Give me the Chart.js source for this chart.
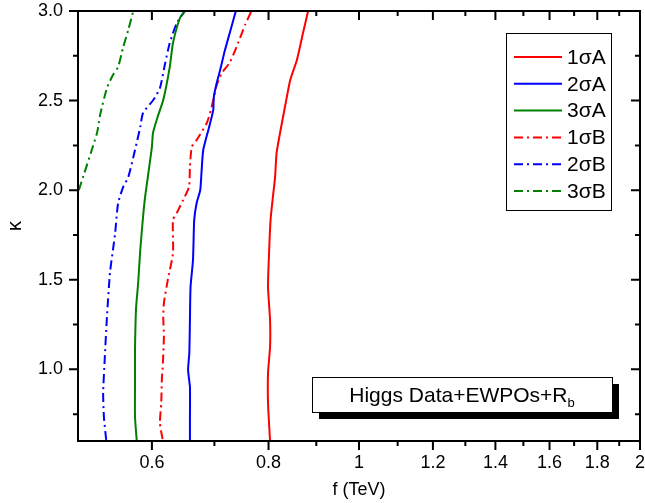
<!DOCTYPE html>
<html>
<head>
<meta charset="utf-8">
<script src="https://cdn.jsdelivr.net/npm/chart.js@4.4.0/dist/chart.umd.min.js"></script>
<style>
body { margin: 0; background: #fff; }
</style>
</head>
<body>
<canvas id="js--kappa_chart" width="645" height="503"></canvas>
<script>
// f (TeV) and kappa, bottom to top
var f1A = [0.803, 0.799, 0.799, 0.803, 0.803, 0.799, 0.801, 0.804, 0.808, 0.813, 0.816, 0.823, 0.833, 0.844, 0.858, 0.871, 0.882];
var k1A = [0.60, 0.812, 0.980, 1.125, 1.275, 1.460, 1.649, 1.834, 1.945, 2.073, 2.207, 2.319, 2.464, 2.615, 2.727, 2.877, 3.0];

var f2A = [0.659, 0.659, 0.659, 0.656, 0.658, 0.659, 0.660, 0.664, 0.666, 0.670, 0.676, 0.678, 0.681, 0.691, 0.698, 0.699, 0.704, 0.710, 0.7185, 0.7275, 0.738];
var k2A = [0.60, 0.717, 0.901, 0.996, 1.091, 1.275, 1.460, 1.610, 1.834, 1.928, 2.001, 2.096, 2.224, 2.353, 2.447, 2.520, 2.598, 2.671, 2.782, 2.883, 3.0];

var f3A = [0.578, 0.5755, 0.5755, 0.5755, 0.577, 0.580, 0.583, 0.587, 0.590, 0.594, 0.600, 0.6016, 0.608, 0.617, 0.627, 0.632, 0.643, 0.651];
var k3A = [0.60, 0.734, 0.924, 1.108, 1.342, 1.482, 1.666, 1.850, 1.962, 2.073, 2.241, 2.319, 2.403, 2.503, 2.687, 2.821, 2.961, 3.0];

var f1B = [0.616, 0.612, 0.614, 0.615, 0.616, 0.618, 0.617, 0.618, 0.624, 0.632, 0.632, 0.638, 0.648, 0.6575, 0.659, 0.662, 0.670, 0.687, 0.694, 0.698, 0.704, 0.713, 0.7275, 0.742, 0.755, 0.767];
var k1B = [0.61, 0.700, 0.812, 0.957, 0.996, 1.180, 1.292, 1.370, 1.499, 1.649, 1.834, 1.873, 1.945, 2.018, 2.129, 2.241, 2.280, 2.375, 2.447, 2.503, 2.587, 2.654, 2.715, 2.821, 2.922, 3.0];

var f2B = [0.536, 0.533, 0.532, 0.534, 0.537, 0.541, 0.545, 0.548, 0.552, 0.559, 0.566, 0.5755, 0.583, 0.587, 0.602, 0.612, 0.620, 0.627, 0.638, 0.651];
var k2B = [0.606, 0.734, 0.868, 1.052, 1.292, 1.538, 1.666, 1.761, 1.928, 2.018, 2.073, 2.224, 2.353, 2.431, 2.503, 2.570, 2.710, 2.821, 2.933, 3.0];

var f3B = [0.501, 0.524, 0.528, 0.537, 0.545, 0.552, 0.559, 0.566, 0.573];
var k3B = [2.0, 2.319, 2.420, 2.570, 2.643, 2.687, 2.799, 2.894, 3.0];

var seriesNames = ['1σA', '2σA', '3σA', '1σB', '2σB', '3σB'];

var xMajor = [0.6, 0.8, 1, 1.2, 1.4, 1.6, 1.8, 2];
var xMinor = [0.7, 0.9, 1.1, 1.3, 1.5, 1.7, 1.9];
var yMajor = [1.0, 1.5, 2.0, 2.5, 3.0];
var yMinor = [0.75, 1.25, 1.75, 2.25, 2.75];

var FONT = "'Liberation Sans', Arial, sans-serif";
var DASHDOT = [9, 4, 2, 4];

function pts(f, k) {
    return f.map(function (v, i) { return { x: v, y: k[i] }; });
}

function line(label, f, k, color, dash) {
    return {
        label: label,
        data: pts(f, k),
        borderColor: color,
        borderWidth: 2,
        borderDash: dash,
        showLine: true,
        pointRadius: 0,
        fill: false,
        tension: 0.2
    };
}

function noPad(s) {
    s.paddingTop = 0;
    s.paddingBottom = 0;
    s.paddingLeft = 0;
    s.paddingRight = 0;
}

// frame box with mirrored ticks
var frameTicks = {
    id: 'frameTicks',
    afterDatasetsDraw: function (chart) {
        var ctx = chart.ctx, a = chart.chartArea;
        var sx = chart.scales.x, sy = chart.scales.y;
        ctx.save();
        ctx.strokeStyle = '#000';
        ctx.lineWidth = 2;
        ctx.strokeRect(a.left, a.top, a.right - a.left, a.bottom - a.top);
        ctx.beginPath();
        function xt(v, len) {
            var p = sx.getPixelForValue(v);
            ctx.moveTo(p, a.bottom); ctx.lineTo(p, a.bottom + len);
            ctx.moveTo(p, a.top); ctx.lineTo(p, a.top + len);
        }
        function yt(v, len) {
            var p = sy.getPixelForValue(v);
            ctx.moveTo(a.left - len, p); ctx.lineTo(a.left, p);
            ctx.moveTo(a.right, p); ctx.lineTo(a.right - len, p);
        }
        xMajor.forEach(function (v) { xt(v, 9); });
        xMinor.forEach(function (v) { xt(v, 5); });
        yMajor.forEach(function (v) { yt(v, 9); });
        yMinor.forEach(function (v) { yt(v, 5); });
        ctx.stroke();
        ctx.restore();
    }
};

var boxLegend = {
    id: 'boxLegend',
    afterDatasetsDraw: function (chart) {
        var ctx = chart.ctx;
        var left = 506, top = 33, w = 105, h = 177, row = 26.8;
        ctx.save();
        ctx.fillStyle = '#fff';
        ctx.fillRect(left, top, w, h);
        ctx.strokeStyle = '#000';
        ctx.lineWidth = 1;
        ctx.strokeRect(left + 0.5, top + 0.5, w, h);
        ctx.font = '21px ' + FONT;
        ctx.textBaseline = 'middle';
        chart.data.datasets.forEach(function (ds, i) {
            var y = top + 24 + i * row;
            ctx.beginPath();
            ctx.strokeStyle = ds.borderColor;
            ctx.lineWidth = 2;
            ctx.setLineDash(ds.borderDash || []);
            ctx.moveTo(514, y);
            ctx.lineTo(562, y);
            ctx.stroke();
            ctx.setLineDash([]);
            ctx.fillStyle = '#000';
            ctx.fillText(ds.label, 567, y + 1);
        });
        ctx.restore();
    }
};

var noteBox = {
    id: 'noteBox',
    afterDatasetsDraw: function (chart) {
        var ctx = chart.ctx;
        var x = 312, y = 377, w = 300, h = 35;
        ctx.save();
        ctx.fillStyle = '#000';
        ctx.fillRect(x + 7, y + 7, w, h);
        ctx.fillStyle = '#fff';
        ctx.fillRect(x, y, w, h);
        ctx.strokeStyle = '#000';
        ctx.lineWidth = 1;
        ctx.strokeRect(x + 0.5, y + 0.5, w, h);
        ctx.fillStyle = '#000';
        ctx.textBaseline = 'alphabetic';
        ctx.font = '21px ' + FONT;
        var main = 'Higgs Data+EWPOs+R';
        var mw = ctx.measureText(main).width;
        ctx.font = '13px ' + FONT;
        var sw = ctx.measureText('b').width;
        var sx = x + w / 2 - (mw + sw) / 2;
        ctx.font = '21px ' + FONT;
        ctx.fillText(main, sx, y + 25);
        ctx.font = '13px ' + FONT;
        ctx.fillText('b', sx + mw, y + 30);
        ctx.restore();
    }
};

var cntxt = document.getElementById('js--kappa_chart');

var myChart = new Chart(cntxt, {
    type: 'scatter',
    data: {
        datasets: [
            line(seriesNames[0], f1A, k1A, '#FF0000', []),
            line(seriesNames[1], f2A, k2A, '#0000FF', []),
            line(seriesNames[2], f3A, k3A, '#008000', []),
            line(seriesNames[3], f1B, k1B, '#FF0000', DASHDOT),
            line(seriesNames[4], f2B, k2B, '#0000FF', DASHDOT),
            line(seriesNames[5], f3B, k3B, '#008000', DASHDOT)
        ]
    },
    options: {
        responsive: false,
        animation: false,
        layout: { padding: { left: 0, top: 11, right: 5, bottom: 0 } },
        plugins: {
            legend: { display: false },
            tooltip: { enabled: false }
        },
        scales: {
            x: {
                type: 'logarithmic',
                min: 0.5,
                max: 2,
                afterFit: function (s) { s.height = 62; noPad(s); },
                afterBuildTicks: function (s) {
                    s.ticks = xMajor.map(function (v) { return { value: v }; });
                },
                grid: { display: false, drawTicks: false },
                border: { display: false },
                ticks: {
                    autoSkip: false,
                    maxRotation: 0,
                    padding: 11,
                    color: '#000',
                    font: { family: FONT, size: 18 },
                    callback: function (v) { return String(+Number(v).toFixed(1)); }
                },
                title: {
                    display: true,
                    text: 'f (TeV)',
                    color: '#000',
                    font: { family: FONT, size: 18 },
                    padding: { top: 0, bottom: 2 }
                }
            },
            y: {
                type: 'linear',
                min: 0.6,
                max: 3.0,
                afterFit: function (s) { s.width = 78; noPad(s); },
                afterBuildTicks: function (s) {
                    s.ticks = yMajor.map(function (v) { return { value: v }; });
                },
                grid: { display: false, drawTicks: false },
                border: { display: false },
                ticks: {
                    autoSkip: false,
                    padding: 15,
                    color: '#000',
                    font: { family: FONT, size: 18 },
                    callback: function (v) { return Number(v).toFixed(1); }
                },
                title: {
                    display: true,
                    text: 'κ',
                    color: '#000',
                    font: { family: FONT, size: 20 },
                    padding: { top: 3, bottom: 0 }
                }
            }
        }
    },
    plugins: [frameTicks, boxLegend, noteBox]
});
</script>
</body>
</html>
